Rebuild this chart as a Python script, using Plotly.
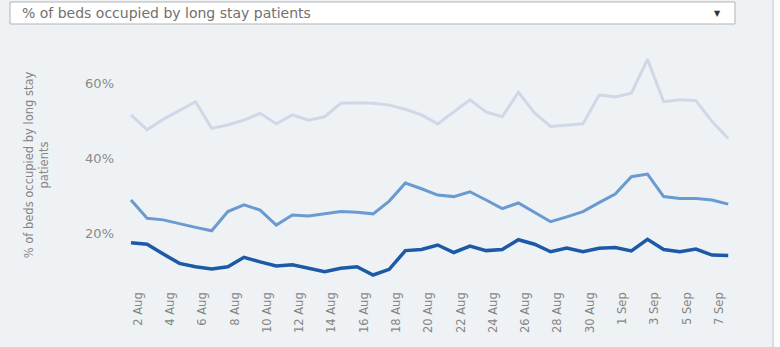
import plotly.graph_objects as go

# ---- data -------------------------------------------------------------
days = [f"{d} Aug" for d in range(2, 32)] + [f"{d} Sep" for d in range(1, 9)]
tick_labels = days[::2]

# share of occupied beds held by long-stay patients, by length of stay (%)
pct_7_plus = [51.5, 47.5, 50.3, 52.7, 55.0, 47.9, 48.8, 50.1, 51.9, 49.1,
              51.5, 50.1, 51.0, 54.6, 54.7, 54.6, 54.1, 53.0, 51.5, 49.1,
              52.3, 55.5, 52.3, 51.0, 57.5, 52.0, 48.4, 48.8, 49.1, 56.8,
              56.3, 57.3, 66.3, 55.0, 55.5, 55.3, 49.7, 45.2]
pct_14_plus = [28.8, 23.9, 23.5, 22.4, 21.5, 20.6, 25.7, 27.5, 26.1, 22.1,
               24.8, 24.5, 25.2, 25.7, 25.5, 25.1, 28.5, 33.3, 31.8, 30.1,
               29.7, 31.0, 28.8, 26.5, 28.0, 25.5, 23.0, 24.3, 25.7, 28.1,
               30.4, 35.0, 35.7, 29.7, 29.2, 29.2, 28.8, 27.7]
pct_21_plus = [17.4, 17.0, 14.4, 11.9, 11.0, 10.4, 11.0, 13.5, 12.3, 11.2,
               11.5, 10.6, 9.7, 10.6, 11.0, 8.8, 10.3, 15.3, 15.6, 16.8,
               14.8, 16.5, 15.3, 15.6, 18.2, 17.0, 15.0, 16.0, 15.0, 15.9,
               16.1, 15.2, 18.3, 15.6, 15.0, 15.7, 14.1, 14.0]

y_ticks = [20, 40, 60]
y_tick_labels = ["20%", "40%", "60%"]
selector_text = "% of beds occupied by long stay patients"
y_title = "% of beds occupied by long stay<br>patients"

# ---- styling ----------------------------------------------------------
W, H = 780, 347
ML, MR, MT, MB = 120, 35, 45, 62
BG = "#eef2f5"
FONT = "DejaVu Sans, Verdana, sans-serif"

series = [
    ("7+ days", pct_7_plus, "#d0d8e8", 3),
    ("14+ days", pct_14_plus, "#6a9ad0", 3),
    ("21+ days", pct_21_plus, "#1c5aa8", 3.5),
]


def paper_x(px):
    return (px - ML) / (W - ML - MR)


def paper_y(py):
    return (H - MB - py) / (H - MT - MB)


fig = go.Figure()
for name, values, color, width in series:
    fig.add_trace(go.Scatter(
        x=days, y=values, mode="lines", name=name,
        line=dict(color=color, width=width),
        hovertemplate="%{x}: %{y:.1f}%<extra>" + name + "</extra>",
    ))

fig.update_layout(
    width=W, height=H,
    margin=dict(l=ML, r=MR, t=MT, b=MB),
    paper_bgcolor=BG, plot_bgcolor=BG,
    showlegend=False,
    font=dict(family=FONT, color="#808080"),
)

fig.update_xaxes(
    type="category",
    range=[-0.68, 38.04],
    tickmode="array", tickvals=tick_labels, ticktext=tick_labels,
    tickangle=-90,
    tickfont=dict(family=FONT, size=11.5, color="#858585"),
    ticklabelshift=7,
    ticklabelstandoff=4,
    showgrid=False, zeroline=False, showline=False, ticks="",
)

fig.update_yaxes(
    range=[6.13, 70.13],
    tickmode="array", tickvals=y_ticks, ticktext=y_tick_labels,
    tickfont=dict(family=FONT, size=13, color="#8a8a8a"),
    ticklabelstandoff=5,
    showgrid=False, zeroline=False, showline=False, ticks="",
    title=dict(text=y_title, font=dict(family=FONT, size=11.5, color="#858585"),
               standoff=34),
)

# measure selector box above the chart
fig.add_shape(type="rect", xref="paper", yref="paper",
              x0=paper_x(10), x1=paper_x(735), y0=paper_y(24), y1=paper_y(2),
              fillcolor="#ffffff", line=dict(color="#b3b3b3", width=1))
fig.add_annotation(xref="paper", yref="paper", x=paper_x(20), y=paper_y(13),
                   text=selector_text, showarrow=False,
                   xanchor="left", yanchor="middle",
                   font=dict(family=FONT, size=14, color="#707070"))
fig.add_annotation(xref="paper", yref="paper", x=paper_x(717), y=paper_y(13),
                   text="▼", showarrow=False,
                   xanchor="center", yanchor="middle",
                   font=dict(family=FONT, size=8, color="#333333"))

# pane edge on the right
fig.add_shape(type="rect", xref="paper", yref="paper",
              x0=paper_x(773), x1=paper_x(781), y0=paper_y(348), y1=paper_y(-1),
              fillcolor="#fbfbfb", line=dict(width=0))
fig.add_shape(type="line", xref="paper", yref="paper",
              x0=paper_x(773), x1=paper_x(773), y0=paper_y(348), y1=paper_y(-1),
              line=dict(color="#d2d6da", width=1.5))

fig.write_html("out.html")
